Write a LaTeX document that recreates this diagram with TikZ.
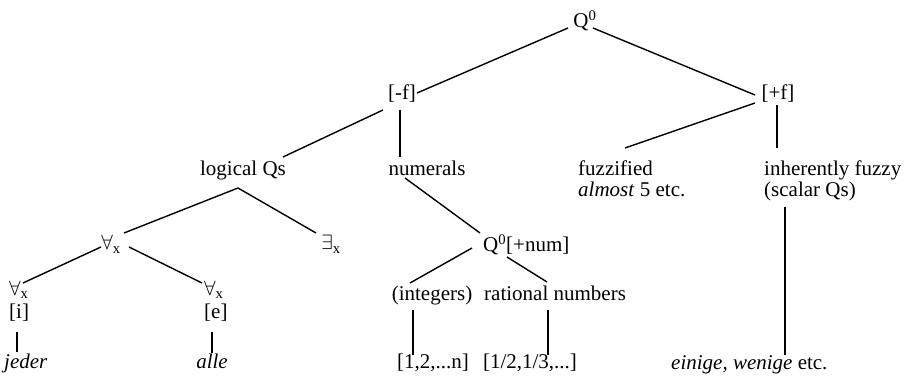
\documentclass[tikz,border=0pt]{standalone}
\usepackage{fontspec}
\setmainfont{Liberation Serif}
\usetikzlibrary{calc}
\begin{document}
\begin{tikzpicture}[x=1pt,y=-1pt,
  every node/.style={inner sep=1pt, font=\fontsize{21}{21}\selectfont},
  lbl/.style={anchor=base},
  lblw/.style={anchor=base west},
  edge/.style={line width=1.4pt},
  bar/.style={line width=1.9pt}]
\useasboundingbox (0,0) rectangle (910,379);
% nodes
\node[lbl] (q0) at (585,28) {Q\textsuperscript{0}};
\node[lbl] (mf) at (402,100) {[-f]};
\node[lbl] (pf) at (778,100) {[+f]};
\node[lbl] (lq) at (243,176) {logical Qs};
\node[lbl] (num) at (427,176) {numerals};
\node[lblw] (fz) at (577,176) {fuzzified};
\node[lblw] (fz2) at (577,197) {\textit{almost} 5 etc.};
\node[lblw] (inh) at (763,176) {inherently fuzzy};
\node[lblw] (inh2) at (763,197) {(scalar Qs)};
\node[lbl] (fa) at (111,250) {$\forall_{\mathrm{x}}$};
\node[lbl] (ex) at (331,250) {$\exists_{\mathrm{x}}$};
\node[lblw] (qn) at (482,252) {Q\textsuperscript{0}[+num]};
\node[lblw] (fl) at (8,295) {$\forall_{\mathrm{x}}$};
\node[lblw] (il) at (8,318) {[i]};
\node[lblw] (fr) at (203,295) {$\forall_{\mathrm{x}}$};
\node[lblw] (er) at (203,318) {[e]};
\node[lbl] (int) at (432,301) {(integers)};
\node[lblw] (rat) at (483,301) {rational numbers};
\node[lblw] (jd) at (3,368) {\textit{jeder}};
\node[lbl] (al) at (212,368) {\textit{alle}};
\node[lbl] (n1) at (433,368) {[1,2,...n]};
\node[lbl] (n2) at (530,368) {[1/2,1/3,...]};
\node[lblw] (ein) at (670,369) {\textit{einige, wenige} etc.};
% connectors
\draw[edge] ($(q0.base)+(-17,0)$) -- ($(mf.base)+(15,-7)$);
\draw[edge] ($(q0.base)+(8,0)$) -- ($(pf.base)+(-23,-5)$);
\draw[edge] ($(mf.base)+(-19,10)$) -- ($(lq.base)+(40,-19)$);
\draw[edge] ($(mf.base)+(-2,10)$) -- ($(num.base)+(-27,-19)$);
\draw[edge] ($(pf.base)+(-23,3)$) -- ($(fz.base west)+(48,-28)$);
\draw[bar] ($(pf.base)+(-1,5)$) -- ($(inh.base west)+(14,-28)$);
\draw[edge] ($(inh2.base west)+(22,10)$) -- ($(ein.base west)+(115,-14)$);
\draw[edge] ($(lq.base)+(-5,12)$) -- ($(fa.base)+(13,-17)$);
\draw[edge] ($(lq.base)+(-5,12)$) -- ($(ex.base)+(-15,-17)$);
\draw[edge] ($(fa.base)+(-10,-3)$) -- ($(fl.base west)+(15,-12)$);
\draw[edge] ($(fa.base)+(18,-3)$) -- ($(fr.base west)+(-1,-12)$);
\draw[bar] ($(il.base west)+(9,14)$) -- ($(jd.base west)+(14,-16)$);
\draw[edge] ($(er.base west)+(9,14)$) -- ($(al.base)+(0,-15)$);
\draw[edge] ($(num.base)+(-22,2)$) -- ($(qn.base west)+(-2,-19)$);
\draw[edge] ($(qn.base west)+(-10,-4)$) -- ($(int.base)+(-22,-18)$);
\draw[edge] ($(qn.base west)+(25,5)$) -- ($(rat.base west)+(64,-19)$);
\draw[bar] ($(int.base)+(-19,9)$) -- ($(n1.base)+(-20,-13)$);
\draw[bar] ($(rat.base west)+(65,9)$) -- ($(n2.base)+(18,-13)$);
\end{tikzpicture}
\end{document}
